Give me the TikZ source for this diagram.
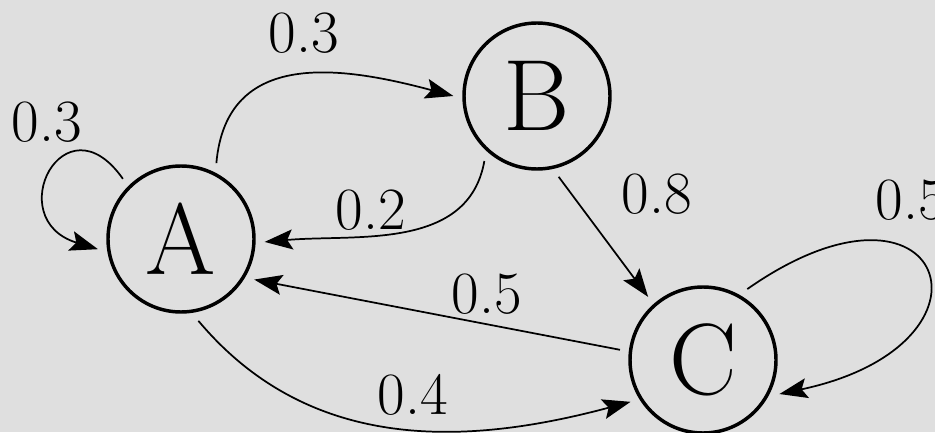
\documentclass[tikz,border=0pt]{standalone}
\usetikzlibrary{arrows.meta}
\definecolor{bggray}{RGB}{223,223,223}
\tikzset{
  state/.style={circle,draw,line width=2.6pt,minimum size=109.5pt,inner sep=0pt,outer sep=8pt,font=\fontsize{76}{76}\selectfont},
  trans/.style={line width=1.3pt,-{Stealth[length=21pt,width=15pt,inset=4pt]}},
  prob/.style={font=\fontsize{45}{45}\selectfont,inner sep=0pt}
}
\begin{document}
\begin{tikzpicture}[x=0.75pt,y=0.75pt]
		\fill[bggray] (0,0) rectangle (935,432);
		\useasboundingbox (0,0) rectangle (935,432);
		\clip (0,0) rectangle (935,432);
		% states
		\node[state] (A) at (181,193) {A};
		\node[state] (B) at (537,336) {B};
		\node[state] (C) at (703,72) {C};
		% transitions
		\draw[trans] (A.134) to[out=125,in=163,looseness=3.5] (A.187);
		\draw[trans] (A.65) to[out=85,in=165,looseness=1.2] (B.180);
		\draw[trans] (B.231) to[out=-100,in=5] (A.-2);
		\draw[trans] (B.-75) -- (C.131);
		\draw[trans] (C.173) -- (A.-29);
		\draw[trans] (A.-78) to[out=-50,in=195] (C.210);
		\draw[trans] (C.58) to[out=35,in=12,looseness=5.6] (C.-24);
		% probabilities
		\node[prob] (pAA) at (47,310) {0.3};
		\node[prob] (pAB) at (304,399) {0.3};
		\node[prob] (pBA) at (371,222) {0.2};
		\node[prob] (pBC) at (657,238) {0.8};
		\node[prob] (pCA) at (487,138) {0.5};
		\node[prob] (pAC) at (413,37) {0.4};
		\node[prob] (pCC) at (911,232) {0.5};
\end{tikzpicture}
\end{document}
